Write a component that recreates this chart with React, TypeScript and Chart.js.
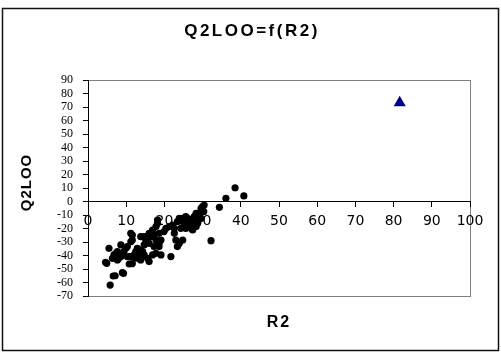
import React, { useEffect, useRef } from "react";
import { Chart, registerables } from "chart.js";

Chart.register(...registerables);

const chartTitle = "Q2LOO=f(R2)";
const xTitle = "R2";
const yTitle = "Q2LOO";

const r2Values = [
  4.9, 5.5, 5.8, 6.6, 7.1, 9.3, 6.8, 7.3, 8.0, 8.6, 6.4, 7.7, 9.0, 9.4, 9.9, 10.3, 10.8, 11.6, 11.2, 10.3,
  12.1, 12.5, 12.9, 13.4, 13.8, 14.3, 11.6, 11.2, 13.8, 12.9, 14.7, 14.7, 15.1, 15.6, 16.0, 16.0, 16.5, 16.9, 17.3, 17.8,
  17.8, 18.2, 16.0, 15.6, 14.7, 16.9, 17.8, 18.6, 18.2, 18.6, 19.1, 19.1, 18.6, 17.3, 19.9, 20.4, 21.7, 21.3, 22.1, 22.6,
  22.6, 23.0, 23.4, 23.9, 24.8, 24.3, 23.9, 24.8, 25.2, 25.6, 26.1, 23.4, 23.9, 24.8, 25.6, 26.5, 27.0, 26.1, 27.0, 27.4,
  27.8, 28.3, 28.7, 27.8, 28.3, 29.6, 29.1, 28.3, 29.6, 30.0, 30.4, 30.3, 32.2, 34.4, 36.1, 38.5, 40.8,
  11.6, 11.2, 8.6, 7.7, 4.6, 10.8, 12.5, 13.8, 9.0,
];
const q2looValues = [
  -45.8, -34.7, -61.9, -55.2, -55.0, -53.2, -39.6, -38.4, -42.1, -40.8, -42.1, -43.3, -39.6, -37.1, -34.7, -33.4, -46.3, -46.0, -40.8, -40.8,
  -39.6, -37.1, -39.6, -42.1, -43.3, -37.1, -28.5, -23.6, -26.0, -34.7, -32.2, -26.0, -28.5, -29.7, -31.0, -23.6, -26.0, -21.1, -24.8, -28.5,
  -18.6, -16.2, -44.5, -42.1, -39.6, -39.6, -38.4, -33.4, -13.7, -23.6, -28.5, -39.6, -31.0, -33.4, -22.3, -19.9, -40.8, -18.6, -17.4, -19.9,
  -23.6, -28.5, -33.4, -31.0, -28.5, -19.9, -13.7, -14.9, -16.2, -19.9, -16.2, -14.9, -12.5, -12.5, -11.2, -13.7, -14.9, -12.5, -19.9, -21.1,
  -16.2, -18.6, -16.2, -11.2, -13.7, -12.5, -8.8, -8.8, -5.1, -3.8, -2.6, -7.5, -29.0, -4.3, 2.4, 10.2, 4.1,
  -24.8, -29.8, -32.2, -37.2, -45.0, -40.9, -42.0, -36.0, -52.7,
];
const highlightR2 = [81.6];
const highlightQ2 = [73.2];

const xMin = 0;
const xMax = 100;
const xStep = 10;
const yMin = -70;
const yMax = 90;
const yStep = 10;

export default function App() {
  const canvasRef = useRef<HTMLCanvasElement | null>(null);

  useEffect(() => {
    const canvas = canvasRef.current;
    if (!canvas) return;

    const framePlugin = {
      id: "frame",
      beforeDraw(chart: any) {
        const { ctx, chartArea } = chart;
        ctx.save();
        ctx.fillStyle = "#ffffff";
        ctx.fillRect(0, 0, chart.width, chart.height);
        ctx.strokeStyle = "#808080";
        ctx.lineWidth = 1;
        ctx.strokeRect(
          Math.round(chartArea.left) + 0.5,
          Math.round(chartArea.top) + 0.5,
          Math.round(chartArea.right - chartArea.left),
          Math.round(chartArea.bottom - chartArea.top)
        );
        ctx.restore();
      },
      afterDraw(chart: any) {
        const { ctx, chartArea } = chart;
        ctx.save();
        ctx.strokeStyle = "#111";
        ctx.lineWidth = 1.5;
        ctx.strokeRect(2.5, 8.5, 496, 342);
        ctx.fillStyle = "#000";
        ctx.textAlign = "center";
        ctx.textBaseline = "middle";
        ctx.font = "bold 17px 'Liberation Sans', Arial, sans-serif";
        (ctx as any).letterSpacing = "2.5px";
        ctx.fillText(chartTitle, 252, 31);
        ctx.font = "bold 16px 'Liberation Sans', Arial, sans-serif";
        (ctx as any).letterSpacing = "2px";
        ctx.fillText(xTitle, (chartArea.left + chartArea.right) / 2, 323);
        ctx.translate(26.5, 182.5);
        ctx.rotate(-Math.PI / 2);
        ctx.font = "bold 15px 'Liberation Sans', Arial, sans-serif";
        (ctx as any).letterSpacing = "1px";
        ctx.fillText(yTitle, 0, 0);
        ctx.restore();
      },
    };

    const chart = new Chart(canvas, {
      type: "scatter",
      data: {
        datasets: [
          {
            label: "points",
            data: r2Values.map((x, i) => ({ x, y: q2looValues[i] })),
            backgroundColor: "#000000",
            borderColor: "#000000",
            borderWidth: 0,
            pointRadius: 3.6,
            pointStyle: "circle",
          },
          {
            label: "highlight",
            data: highlightR2.map((x, i) => ({ x, y: highlightQ2[i] })),
            backgroundColor: "#000080",
            borderColor: "#000080",
            borderWidth: 0,
            pointRadius: 7,
            pointStyle: "triangle",
          },
        ],
      },
      options: {
        responsive: false,
        animation: false,
        layout: { padding: { left: 0, right: 31, top: 80, bottom: 57 } },
        plugins: {
          legend: { display: false },
          title: { display: false },
          tooltip: { enabled: false },
        },
        scales: {
          x: {
            type: "linear",
            position: { y: 0 } as any,
            min: xMin,
            max: xMax,
            grid: {
              drawOnChartArea: false,
              drawTicks: true,
              tickLength: 5,
              color: "#000",
            },
            border: { display: true, color: "#000", width: 1 },
            ticks: {
              stepSize: xStep,
              autoSkip: false,
              color: "#000",
              padding: 6,
              maxRotation: 0,
              font: { family: "'DejaVu Sans', sans-serif", size: 14 },
            },
          },
          y: {
            type: "linear",
            position: "left",
            min: yMin,
            max: yMax,
            afterFit(scale: any) {
              scale.width = 88;
            },
            grid: {
              drawOnChartArea: false,
              drawTicks: true,
              tickLength: 5,
              color: "#000",
            },
            border: { display: true, color: "#000", width: 1 },
            ticks: {
              stepSize: yStep,
              autoSkip: false,
              color: "#000",
              padding: 10,
              font: { family: "'Liberation Serif', 'Times New Roman', serif", size: 12 },
              callback: (v: any) => (Number(v) < 0 ? "-" + Math.abs(Number(v)) : String(v)),
            },
          },
        },
      },
      plugins: [framePlugin],
    });

    return () => chart.destroy();
  }, []);

  return (
    <div style={{ position: "absolute", left: 0, top: 0, width: 501, height: 353 }}>
      <canvas ref={canvasRef} width={501} height={353} style={{ display: "block", width: 501, height: 353 }} />
    </div>
  );
}
